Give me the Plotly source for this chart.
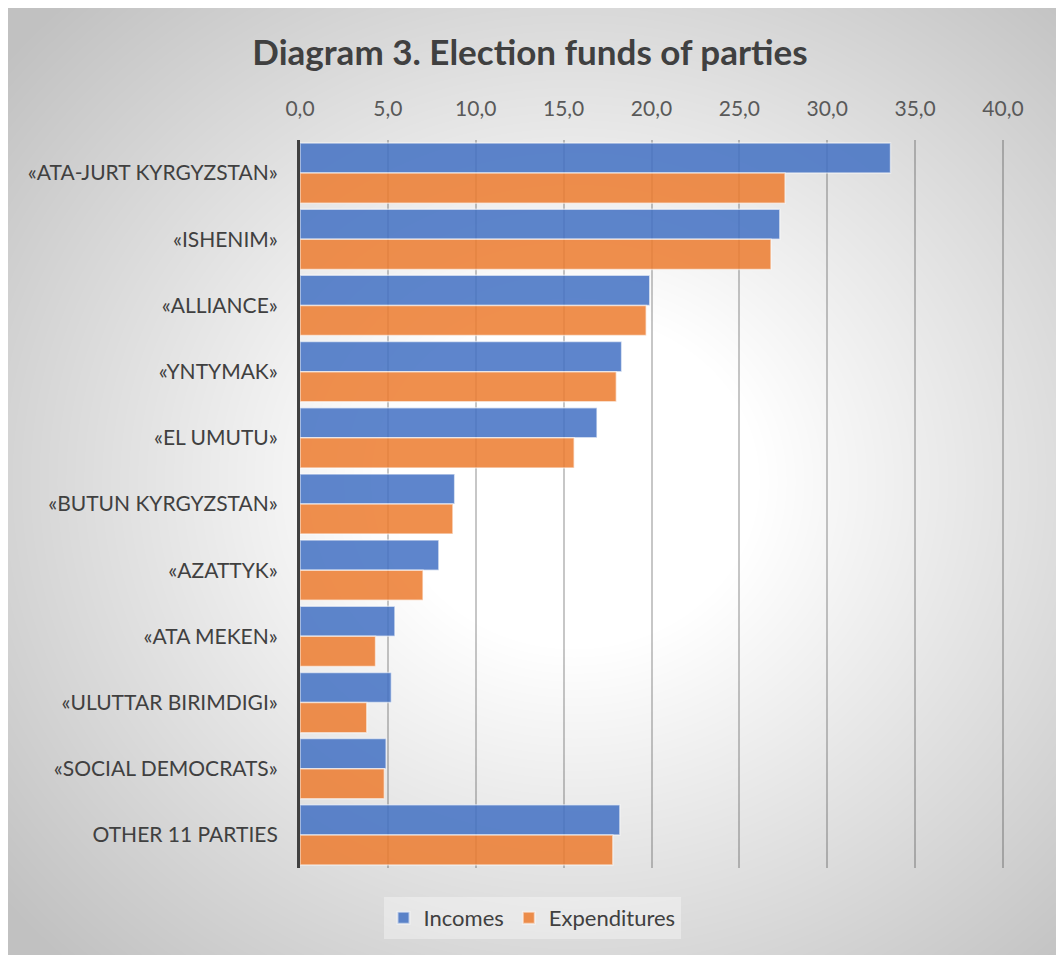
import base64
import struct
import zlib

import numpy as np
import plotly.graph_objects as go

# ---------------- data ----------------
categories = [
    "«ATA-JURT KYRGYZSTAN»",
    "«ISHENIM»",
    "«ALLIANCE»",
    "«YNTYMAK»",
    "«EL UMUTU»",
    "«BUTUN KYRGYZSTAN»",
    "«AZATTYK»",
    "«ATA MEKEN»",
    "«ULUTTAR BIRIMDIGI»",
    "«SOCIAL DEMOCRATS»",
    "OTHER 11 PARTIES",
]
incomes = [33.6, 27.3, 19.9, 18.3, 16.9, 8.8, 7.9, 5.4, 5.2, 4.9, 18.2]
expenditures = [27.6, 26.8, 19.7, 18.0, 15.6, 8.7, 7.0, 4.3, 3.8, 4.8, 17.8]
tick_values = [0, 5, 10, 15, 20, 25, 30, 35, 40]
x_range = [0, 40.17]

# ---------------- layout constants ----------------
W, H = 1056, 955
ML, MR, MT, MB = 300, 50, 140, 87
PW, PH = W - ML - MR, H - MT - MB
BG_X0, BG_Y0 = 8, 8  # white strip on top/left


def make_bg_png(w, h):
    xs = np.arange(w)[None, :].astype(float)
    ys = np.arange(h)[:, None].astype(float)
    cx, cy = w * 0.54, h * 0.50
    d = np.sqrt(((xs - cx) / (w / 2)) ** 2 + ((ys - cy) / (h / 2)) ** 2) / np.sqrt(2)
    t = np.clip((d - 0.25) / 0.75, 0, 1)
    v = (255 - 62 * t).astype(np.uint8)
    raw = b"".join(b"\x00" + v[r].tobytes() for r in range(h))

    def chunk(tag, data):
        c = struct.pack(">I", len(data)) + tag + data
        return c + struct.pack(">I", zlib.crc32(tag + data) & 0xFFFFFFFF)

    png = b"\x89PNG\r\n\x1a\n"
    png += chunk(b"IHDR", struct.pack(">IIBBBBB", w, h, 8, 0, 0, 0, 0))
    png += chunk(b"IDAT", zlib.compress(raw, 9))
    png += chunk(b"IEND", b"")
    return "data:image/png;base64," + base64.b64encode(png).decode()


bg_w, bg_h = W - BG_X0, H - BG_Y0
bg_src = make_bg_png(bg_w, bg_h)

FONT = "Lato"

fig = go.Figure()
fig.add_trace(go.Bar(
    name="Incomes", y=categories, x=incomes, orientation="h",
    marker=dict(color="#4472C4", line=dict(color="rgba(255,255,255,0.6)", width=1.5)),
    opacity=0.86,
))
fig.add_trace(go.Bar(
    name="Expenditures", y=categories, x=expenditures, orientation="h",
    marker=dict(color="#ED7D31", line=dict(color="rgba(255,255,255,0.6)", width=1.5)),
    opacity=0.86,
))

fig.update_layout(
    width=W, height=H,
    margin=dict(l=ML, r=MR, t=MT, b=MB, pad=0),
    paper_bgcolor="white",
    plot_bgcolor="rgba(0,0,0,0)",
    barmode="group",
    bargap=0.09,
    bargroupgap=0,
    separators=", ",
    font=dict(family=FONT, size=21, color="#404040"),
    title=dict(
        text="<b>Diagram 3. Election funds of parties</b>",
        x=530 / W, xanchor="center", xref="container",
        y=1 - 53 / H, yanchor="middle", yref="container",
        font=dict(family=FONT, size=35, color="#404040"),
    ),
    xaxis=dict(
        side="top", range=x_range, tickvals=tick_values, tickformat=".1f",
        showgrid=True, gridcolor="rgba(0,0,0,0.22)", gridwidth=1.5,
        zeroline=False, showline=False,
        ticks="outside", ticklen=15, tickcolor="rgba(0,0,0,0)",
        tickfont=dict(family=FONT, size=21, color="#595959"),
        fixedrange=True,
    ),
    yaxis=dict(
        autorange="reversed", showgrid=False, zeroline=False,
        showline=True, linecolor="#404040", linewidth=3,
        ticks="outside", ticklen=15, tickcolor="rgba(0,0,0,0)",
        tickfont=dict(family=FONT, size=21, color="#404040"),
        fixedrange=True,
    ),
    legend=dict(
        orientation="h",
        x=(532 - ML) / PW, xanchor="center",
        y=-(897 - (MT + PH)) / PH, yanchor="top",
        bgcolor="rgba(255,255,255,0.35)",
        font=dict(family=FONT, size=22, color="#404040"),
        itemsizing="constant",
    ),
    images=[dict(
        source=bg_src, xref="paper", yref="paper",
        x=(BG_X0 - ML) / PW, y=1 + (MT - BG_Y0) / PH,
        sizex=bg_w / PW, sizey=bg_h / PH,
        xanchor="left", yanchor="top", sizing="stretch", layer="below",
    )],
    showlegend=True,
)

fig.write_html("out.html")
